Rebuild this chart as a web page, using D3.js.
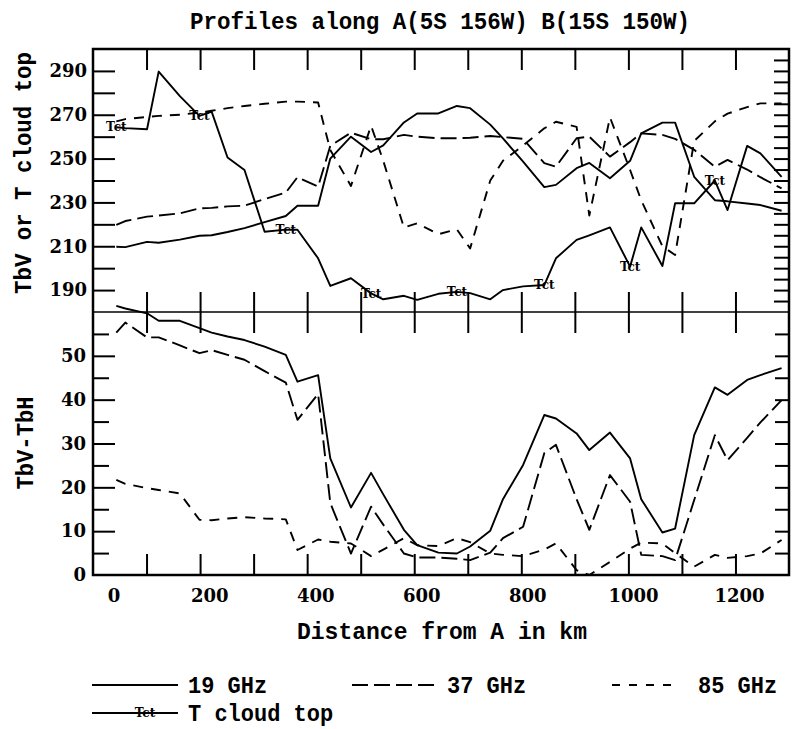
<!DOCTYPE html>
<html>
<head>
<meta charset="utf-8">
<script src="https://cdn.jsdelivr.net/npm/d3@7"></script>
<style>
  body { margin: 0; background: #fff; }
  svg { display: block; }
  .mono { font-family: "Liberation Mono", "DejaVu Sans Mono", monospace; fill: #000; font-weight: bold; }
  .tick text { font-family: "DejaVu Serif", serif; font-size: 18px; font-weight: bold; fill: #000; }
</style>
</head>
<body>
<div id="chart"></div>
<script>
// distance along the profile (km), shared by all series
var dist = [30, 47, 88, 110, 150, 187, 210, 240, 272, 310,
            350, 372, 411, 434, 473, 511, 534, 573, 598, 638,
            673, 698, 736, 760, 798, 838, 860, 899, 923, 962,
            1000, 1021, 1061, 1085, 1121, 1160, 1184, 1221, 1246, 1286];

// top panel: TbV (K) and cloud top temperature
var tb19 = [209.8, 209.6, 212, 211.6, 213, 214.8, 215, 216.5, 218.3, 221,
            223.8, 228.5, 228.5, 250, 260, 253, 256, 266.5, 270.6, 270.6,
            274, 273, 265.5, 259.2, 248.6, 237, 238, 245.6, 248, 241,
            249, 261.5, 266.4, 266.4, 241.7, 231, 230.5, 229.5, 228.8, 226.2];
var tb37 = [219.7, 221.5, 223.5, 224, 225, 227.3, 227.5, 228.2, 228.5, 231.5,
            234.5, 241.5, 237.2, 255.8, 261.8, 258.8, 258.8, 260.8, 260, 259.3,
            259.3, 259.5, 260.3, 259.8, 259, 247.9, 246.3, 259.3, 260, 250.9,
            257.5, 261.5, 260.8, 259, 254, 246.3, 249.4, 245, 241.5, 236.4];
var tb85 = [267, 268, 269, 269.5, 270, 271, 271.8, 273, 274, 275,
            276, 276, 275.6, 253.9, 237.5, 265, 249, 218.5, 220.5, 215.5,
            217.7, 209, 240, 249, 256, 263.8, 266.8, 264.5, 224, 268.8,
            244.8, 231, 210, 206, 258, 267, 270.5, 273.5, 275.2, 275.2];
var tct = [264.3, 263.9, 263.4, 289.7, 278.5, 269.5, 271.4, 250.5, 244.8, 216.6,
           217.6, 217.5, 204.5, 191.9, 195.4, 188.5, 185.8, 187.4, 185.5, 188.3,
           189.2, 188.6, 185.8, 190, 191.7, 192.3, 204.5, 212.9, 215, 218.6,
           200.7, 218.6, 201, 229.6, 229.6, 240, 226.5, 255.8, 252.4, 241.7];
var tctEvery = 5; // a "Tct" mark every 5th sample

// bottom panel: TbV - TbH
var pol19 = [61.4, 60.8, 59.7, 58, 58, 56.3, 55.3, 54.4, 53.6, 52.1,
             50.2, 44.1, 45.6, 26.6, 15.4, 23.3, 18.4, 10.3, 6.8, 5.1,
             4.9, 6.5, 10.1, 17.3, 25.1, 36.5, 35.7, 32.3, 28.5, 32.5,
             26.6, 17.3, 9.7, 10.6, 31.9, 42.8, 41.1, 44.5, 45.6, 47.2];
var pol37 = [55.3, 57.6, 54.2, 54.2, 52.4, 50.6, 51.3, 50.2, 49.1, 46.5,
             43.9, 35.4, 41.3, 16.4, 4.9, 15.6, 11.5, 4.9, 4.0, 4.0,
             3.7, 3.4, 5.1, 8.4, 11.0, 27.8, 29.7, 17.3, 10.3, 22.8,
             16.7, 4.6, 4.3, 3.4, 17.1, 31.9, 26.2, 31.3, 34.8, 39.9];
var pol85 = [21.7, 20.8, 19.8, 19.4, 18.6, 12.6, 12.5, 12.9, 13.2, 12.9,
             12.7, 5.7, 8.1, 7.6, 7.2, 4.3, 5.8, 8.4, 6.8, 6.6,
             8.4, 7.5, 4.9, 4.6, 4.3, 5.8, 7.2, 1.1, 0, 3,
             6, 7.4, 7.2, 5, 1.9, 4.6, 3.9, 4.3, 4.9, 8.0];

var xLabels = [0, 200, 400, 600, 800, 1000, 1200];
var topLabels = [190, 210, 230, 250, 270, 290];
var botLabels = [0, 10, 20, 30, 40, 50];

var W = 792, H = 729;
var pLeft = 93, pRight = 789, pTop = 49, pMid = 312, pBottom = 575;

var svg = d3.select("#chart").append("svg")
    .attr("width", W)
    .attr("height", H);

var x = d3.scaleLinear().domain([-14, 1300]).range([pLeft, pRight]);
var yTop = d3.scaleLinear().domain([180, 300]).range([pMid, pTop]);
var yBot = d3.scaleLinear().domain([0, 60]).range([pBottom, pMid]);

// frame divisions along the distance axis (13 equal parts)
var xd = x.domain();
var xDiv = d3.range(1, 13).map(function(k) { return xd[0] + k * (xd[1] - xd[0]) / 13; });

function ticksOnly(g) {
  g.select(".domain").remove();
  g.selectAll(".tick text").remove();
  g.selectAll(".tick line").attr("stroke", "#000").attr("stroke-width", 2);
}

// top frame, divider, bottom frame ticks
svg.append("g").attr("transform", "translate(0," + pTop + ")")
  .call(d3.axisBottom(x).tickValues(xDiv).tickSize(21)).call(ticksOnly);
svg.append("g").attr("transform", "translate(0," + pMid + ")")
  .call(d3.axisTop(x).tickValues(xDiv).tickSize(20)).call(ticksOnly);
svg.append("g").attr("transform", "translate(0," + pMid + ")")
  .call(d3.axisBottom(x).tickValues(xDiv).tickSize(21)).call(ticksOnly);
svg.append("g").attr("transform", "translate(0," + pBottom + ")")
  .call(d3.axisTop(x).tickValues(xDiv).tickSize(21)).call(ticksOnly);

// left ticks
svg.append("g").attr("transform", "translate(" + pLeft + ",0)")
  .call(d3.axisRight(yTop).tickValues(d3.range(190, 300, 10)).tickSize(22)).call(ticksOnly);
svg.append("g").attr("transform", "translate(" + pLeft + ",0)")
  .call(d3.axisRight(yBot).tickValues(d3.range(10, 60, 10)).tickSize(22)).call(ticksOnly);
svg.append("g").attr("transform", "translate(" + pLeft + ",0)")
  .call(d3.axisRight(yBot).tickValues(d3.range(5, 60, 10)).tickSize(16)).call(ticksOnly);

// right ticks
svg.append("g").attr("transform", "translate(" + pRight + ",0)")
  .call(d3.axisLeft(yTop).tickValues(d3.range(185, 300, 5)).tickSize(15)).call(ticksOnly);
svg.append("g").attr("transform", "translate(" + pRight + ",0)")
  .call(d3.axisLeft(yBot).tickValues(d3.range(5, 60, 5)).tickSize(14)).call(ticksOnly);

// tick labels
function labelsOnly(g) {
  g.select(".domain").remove();
  g.selectAll(".tick line").remove();
}
svg.append("g").attr("transform", "translate(0," + pBottom + ")")
  .call(d3.axisBottom(x).tickValues(xLabels).tickFormat(d3.format("d")).tickSize(0).tickPadding(14))
  .call(labelsOnly)
  .selectAll(".tick text").attr("dx", function(d) { return d === 0 ? 13 : 3; });
svg.append("g").attr("transform", "translate(" + pLeft + ",0)")
  .call(d3.axisLeft(yTop).tickValues(topLabels).tickSize(0).tickPadding(6))
  .call(labelsOnly);
svg.append("g").attr("transform", "translate(" + pLeft + ",0)")
  .call(d3.axisLeft(yBot).tickValues(botLabels).tickSize(0).tickPadding(7))
  .call(labelsOnly);

// frames
svg.append("rect")
  .attr("x", pLeft).attr("y", pTop)
  .attr("width", pRight - pLeft).attr("height", pBottom - pTop)
  .attr("fill", "none").attr("stroke", "#000").attr("stroke-width", 2.5);
svg.append("line")
  .attr("x1", pLeft).attr("x2", pRight).attr("y1", pMid).attr("y2", pMid)
  .attr("stroke", "#000").attr("stroke-width", 1.3);

// series
var lineTop = d3.line().x(function(d, i) { return x(dist[i]); }).y(function(d) { return yTop(d); });
var lineBot = d3.line().x(function(d, i) { return x(dist[i]); }).y(function(d) { return yBot(d); });

var dash37 = "16,6", dash85 = "10,8";

function drawLine(gen, data, dash) {
  svg.append("path")
    .datum(data)
    .attr("d", gen)
    .attr("fill", "none")
    .attr("stroke", "#000")
    .attr("stroke-width", 1.9)
    .attr("stroke-linejoin", "round")
    .attr("stroke-dasharray", dash);
}

drawLine(lineTop, tb19, null);
drawLine(lineTop, tb37, dash37);
drawLine(lineTop, tb85, dash85);
drawLine(lineTop, tct, null);

drawLine(lineBot, pol19, null);
drawLine(lineBot, pol37, dash37);
drawLine(lineBot, pol85, dash85);

// Tct markers
svg.selectAll(".tct")
  .data(tct.filter(function(d, i) { return i % tctEvery === 0; }))
  .enter().append("text")
  .attr("class", "tct")
  .attr("x", function(d, i) { return x(dist[i * tctEvery]); })
  .attr("y", function(d) { return yTop(d); })
  .attr("dy", "0.35em")
  .attr("text-anchor", "middle")
  .style("font-family", "DejaVu Serif, serif")
  .style("font-weight", "bold")
  .style("font-size", "12px")
  .text("Tct");

// titles
svg.append("text").attr("class", "mono")
  .attr("x", 440).attr("y", 29)
  .attr("text-anchor", "middle")
  .attr("textLength", 500).attr("lengthAdjust", "spacingAndGlyphs")
  .style("font-size", "23px")
  .text("Profiles along A(5S 156W) B(15S 150W)");

svg.append("text").attr("class", "mono")
  .attr("x", 442).attr("y", 639)
  .attr("text-anchor", "middle")
  .attr("textLength", 290).attr("lengthAdjust", "spacingAndGlyphs")
  .style("font-size", "23px")
  .text("Distance from A in km");

svg.append("text").attr("class", "mono")
  .attr("transform", "translate(31,173) rotate(-90)")
  .attr("text-anchor", "middle")
  .attr("textLength", 242).attr("lengthAdjust", "spacingAndGlyphs")
  .style("font-size", "23px")
  .text("TbV or T cloud top");

svg.append("text").attr("class", "mono")
  .attr("transform", "translate(33,443) rotate(-90)")
  .attr("text-anchor", "middle")
  .attr("textLength", 93).attr("lengthAdjust", "spacingAndGlyphs")
  .style("font-size", "23px")
  .text("TbV-TbH");

// legend
var legendItems = [
  {label: "19 GHz", dash: null, x1: 92, x2: 178, tx: 188, y: 685},
  {label: "37 GHz", dash: dash37, x1: 352, x2: 434, tx: 447, y: 685},
  {label: "85 GHz", dash: "8,9", x1: 612, x2: 677, tx: 698, y: 685},
  {label: "T cloud top", dash: null, x1: 92, x2: 178, tx: 188, y: 713, mark: true}
];
var leg = svg.selectAll(".leg").data(legendItems).enter().append("g").attr("class", "leg");
leg.append("line")
  .attr("x1", function(d) { return d.x1; })
  .attr("x2", function(d) { return d.x2; })
  .attr("y1", function(d) { return d.y; })
  .attr("y2", function(d) { return d.y; })
  .attr("stroke", "#000").attr("stroke-width", 1.9)
  .attr("stroke-dasharray", function(d) { return d.dash; });
leg.append("text").attr("class", "mono")
  .attr("x", function(d) { return d.tx; })
  .attr("y", function(d) { return d.y + 8; })
  .attr("textLength", function(d) { return d.label.length * 13.2; })
  .attr("lengthAdjust", "spacingAndGlyphs")
  .style("font-size", "23px")
  .text(function(d) { return d.label; });
leg.filter(function(d) { return d.mark; }).append("text")
  .attr("x", 145).attr("y", function(d) { return d.y; })
  .attr("dy", "0.35em")
  .attr("text-anchor", "middle")
  .style("font-family", "DejaVu Serif, serif")
  .style("font-weight", "bold")
  .style("font-size", "12px")
  .text("Tct");
</script>
</body>
</html>
